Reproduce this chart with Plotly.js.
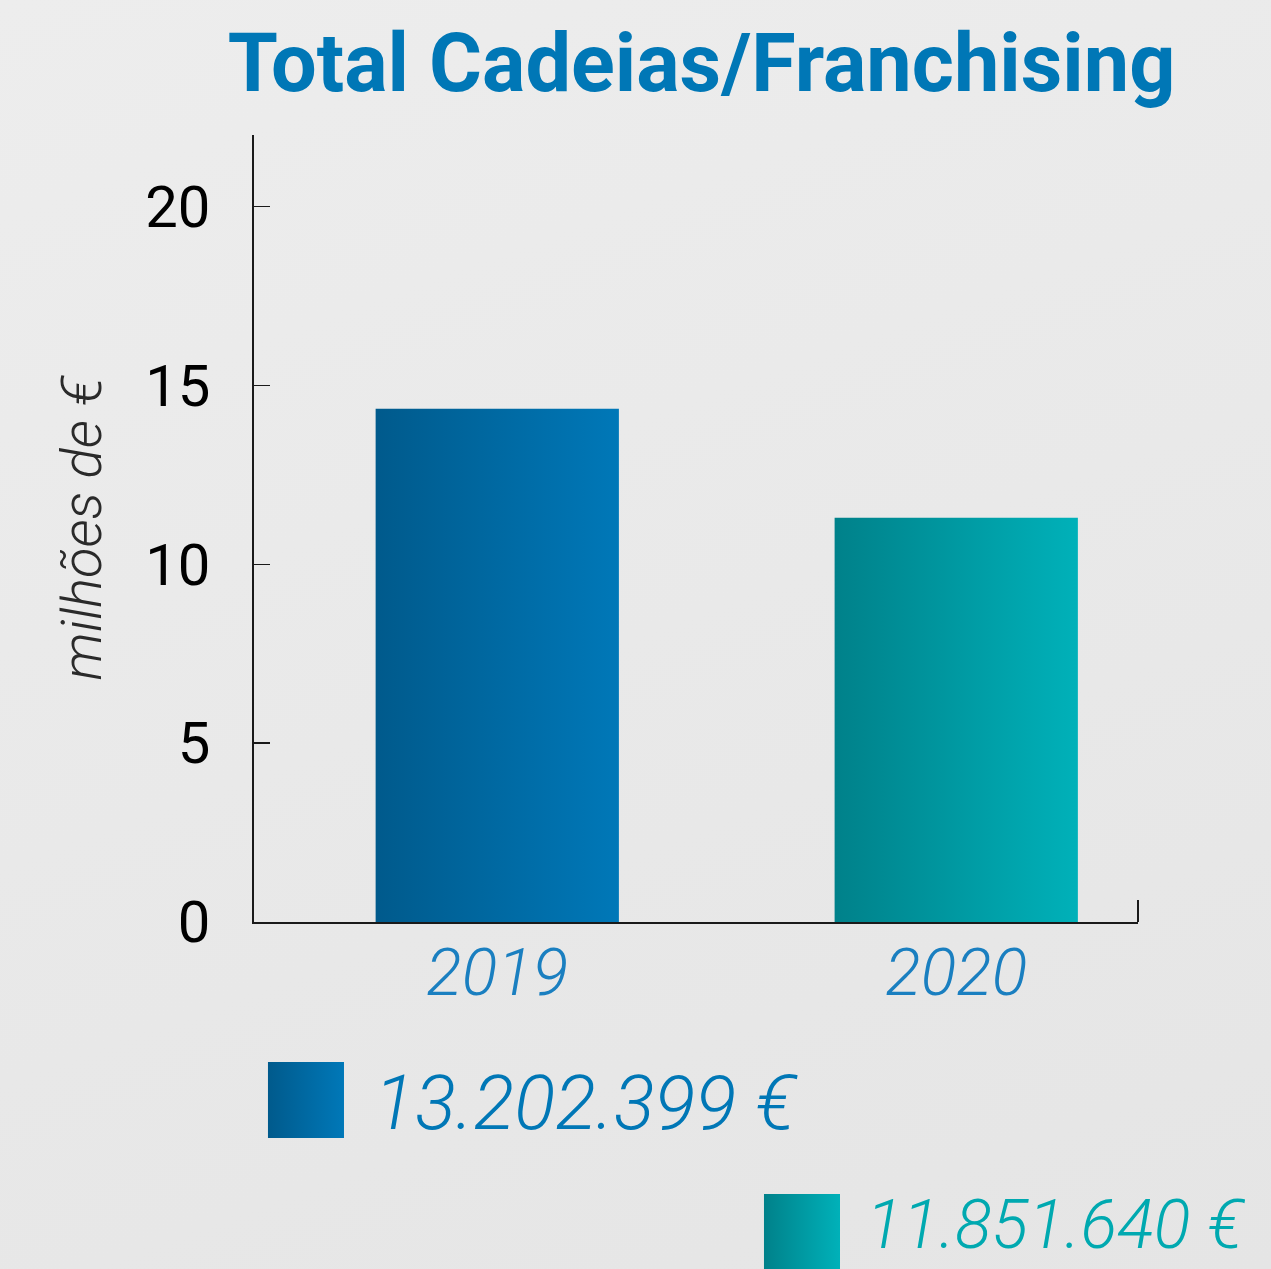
<!DOCTYPE html>
<html>
<head>
<meta charset="utf-8">
<script src="https://cdn.plot.ly/plotly-3.0.1.min.js"></script>
<style>
  html, body { margin: 0; padding: 0; }
  body { background: linear-gradient(160deg, #ededed 0%, #e9e9e9 50%, #e5e5e5 100%); }
  #chart { width: 1271px; height: 1269px; }
</style>
</head>
<body>
<div id="chart"></div>
<script>
// ---- data ----
const years = ['2019', '2020'];
const values = [14.35, 11.3];           // milhões de € (as drawn)
const totals = ['13.202.399 €', '11.851.640 €'];
const yTickVals = [0, 5, 10, 15, 20, 22];
const yTickText = ['0', '5', '10', '15', '20', ''];

// ---- styles ----
const gradients = [
  ['#005a8c', '#0078b8'],
  ['#00818a', '#00b1b9']
];
const textColors = ['#0077b6', '#00a9b0'];

const trace = {
  type: 'bar',
  x: years,
  y: values,
  width: 0.53,
  marker: { color: [gradients[0][1], gradients[1][1]], line: { width: 0 } },
  hoverinfo: 'x+y',
  showlegend: false
};

const layout = {
  width: 1271,
  height: 1269,
  margin: { l: 254, r: 133, t: 135, b: 347 },
  paper_bgcolor: 'rgba(0,0,0,0)',
  plot_bgcolor: 'rgba(0,0,0,0)',
  title: {
    text: 'Total Cadeias/Franchising',
    font: { family: 'Roboto', size: 81, weight: 700, color: '#0077b6' },
    x: 0.552, xanchor: 'center',
    y: 0.951, yanchor: 'middle', yref: 'container'
  },
  xaxis: {
    type: 'category',
    range: [-0.53, 1.396],
    showline: true, linecolor: '#1a1a1a', linewidth: 2,
    ticks: '', showgrid: false, zeroline: false,
    tickfont: { family: 'Roboto', size: 66, weight: 300, style: 'italic', color: '#1a7fc0' },
    ticklabelstandoff: -8,
    fixedrange: true
  },
  yaxis: {
    range: [0, 22],
    tickvals: yTickVals, ticktext: yTickText,
    showline: true, linecolor: '#1a1a1a', linewidth: 2,
    ticks: 'inside', ticklen: 16, tickwidth: 1.5, tickcolor: '#1a1a1a',
    showgrid: false, zeroline: false,
    tickfont: { family: 'Roboto', size: 58, color: '#000' },
    ticklabelstandoff: 30,
    title: {
      text: 'milhões de €',
      font: { family: 'Roboto', size: 56, weight: 300, style: 'italic', color: '#2a2a2a' },
      standoff: 26
    },
    fixedrange: true
  },
  shapes: [
    { type: 'rect', xref: 'paper', yref: 'paper', x0: 0.0158, x1: 0.1018, y0: -0.2745, y1: -0.1779,
      line: { width: 0 }, fillcolor: gradients[0][1] },
    { type: 'rect', xref: 'paper', yref: 'paper', x0: 0.5769, x1: 0.6629, y0: -0.4549, y1: -0.3456,
      line: { width: 0 }, fillcolor: gradients[1][1] },
    { type: 'line', xref: 'paper', yref: 'paper', x0: 1, x1: 1, y0: 0, y1: 0.028,
      line: { width: 2, color: '#1a1a1a' } }
  ],
  annotations: [
    { xref: 'paper', yref: 'paper', x: 0.1335, y: -0.230, xanchor: 'left', yanchor: 'middle',
      text: totals[0], showarrow: false,
      font: { family: 'Roboto', size: 76, weight: 300, style: 'italic', color: textColors[0] } },
    { xref: 'paper', yref: 'paper', x: 0.6900, y: -0.4385, xanchor: 'left', yanchor: 'bottom',
      text: totals[1], showarrow: false,
      font: { family: 'Roboto', size: 68, weight: 300, style: 'italic', color: textColors[1] } }
  ]
};

function applyGradients(gd) {
  const svg = gd.querySelector('svg.main-svg');
  const ns = 'http://www.w3.org/2000/svg';
  let defs = svg.querySelector('defs');
  if (!defs) { defs = document.createElementNS(ns, 'defs'); svg.insertBefore(defs, svg.firstChild); }
  gradients.forEach((g, i) => {
    const lg = document.createElementNS(ns, 'linearGradient');
    lg.setAttribute('id', 'barGrad' + i);
    lg.setAttribute('x1', '0'); lg.setAttribute('y1', '0');
    lg.setAttribute('x2', '1'); lg.setAttribute('y2', '0');
    const s1 = document.createElementNS(ns, 'stop');
    s1.setAttribute('offset', '0'); s1.setAttribute('stop-color', g[0]);
    const s2 = document.createElementNS(ns, 'stop');
    s2.setAttribute('offset', '1'); s2.setAttribute('stop-color', g[1]);
    lg.appendChild(s1); lg.appendChild(s2);
    defs.appendChild(lg);
  });
  gd.querySelectorAll('.barlayer .point path').forEach((p, i) => {
    p.style.fill = 'url(#barGrad' + (i % gradients.length) + ')';
  });
  const shapePaths = gd.querySelectorAll('.shapelayer path');
  for (let i = 0; i < 2 && i < shapePaths.length; i++) {
    shapePaths[i].style.fill = 'url(#barGrad' + i + ')';
  }
}

Plotly.newPlot('chart', [trace], layout, { displayModeBar: false, staticPlot: true })
  .then(applyGradients);
</script>
</body>
</html>
